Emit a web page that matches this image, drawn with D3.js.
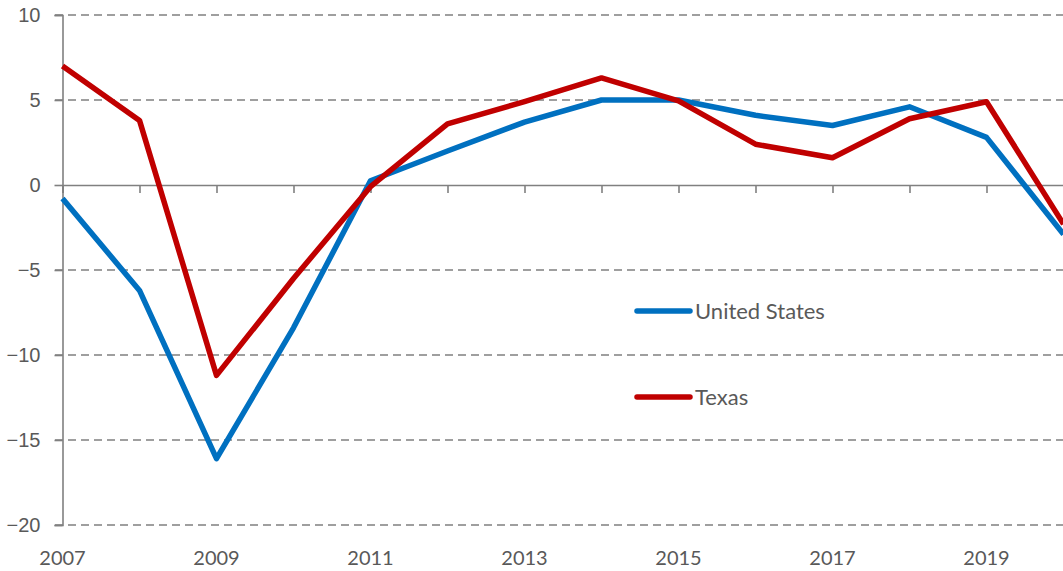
<!DOCTYPE html>
<html>
<head>
<meta charset="utf-8">
<script src="https://cdn.jsdelivr.net/npm/d3@7"></script>
<style>
  body { margin: 0; background: #fff; }
  svg { display: block; font-family: Lato, "Open Sans", sans-serif; }
</style>
</head>
<body>
<figure style="margin:0"></figure>
<script>
let widthFigure = 1063;
let heightFigure = 571;

let years = [2007, 2008, 2009, 2010, 2011, 2012, 2013, 2014, 2015, 2016, 2017, 2018, 2019, 2020];
let usValues = [-0.8, -6.2, -16.1, -8.4, 0.25, 2.0, 3.7, 5.0, 5.0, 4.1, 3.5, 4.6, 2.8, -2.9];
let txValues = [7.0, 3.8, -11.2, -5.5, -0.1, 3.6, 4.9, 6.3, 4.95, 2.4, 1.6, 3.9, 4.9, -2.3];
let yTicks = [-20, -15, -10, -5, 0, 5, 10];
let xLabels = [2007, 2009, 2011, 2013, 2015, 2017, 2019];
let seriesNames = ['United States', 'Texas'];
let seriesColors = ['#0070c0', '#c00000'];

let xScale = d3.scaleLinear().domain([2007, 2020]).range([62.5, 1063.5]);
let yScale = d3.scaleLinear().domain([-20, 10]).range([525, 15]);

let svg = d3.select('figure')
    .append('svg')
    .attr('width', widthFigure)
    .attr('height', heightFigure);

// dashed gridlines (not on zero, that's the axis)
svg.selectAll('.grid')
    .data(yTicks.filter(d => d !== 0))
    .enter()
    .append('line')
    .attr('x1', 55)
    .attr('x2', widthFigure)
    .attr('y1', d => yScale(d))
    .attr('y2', d => yScale(d))
    .attr('stroke', '#808080')
    .attr('stroke-width', 1.6)
    .attr('stroke-dasharray', '8,5');

// y axis
let yAxis = d3.axisLeft(yScale).tickValues(yTicks).tickSize(8).tickPadding(14);
let gy = svg.append('g').attr('transform', 'translate(62.5,0)').call(yAxis);
gy.select('.domain').attr('stroke', '#808080').attr('stroke-width', 1.6);
gy.selectAll('.tick line').attr('stroke', '#808080').attr('stroke-width', 1.6);
gy.selectAll('.tick text').attr('fill', '#595959').style('font-size', '20px');

// x axis at zero
let xAxis = d3.axisBottom(xScale).tickValues(years).tickSize(8).tickFormat('');
let gx = svg.append('g').attr('transform', `translate(0,${yScale(0)})`).call(xAxis);
gx.select('.domain').attr('stroke', '#808080').attr('stroke-width', 1.6);
gx.selectAll('.tick line').attr('stroke', '#808080').attr('stroke-width', 1.6);

// year labels at the bottom
svg.selectAll('.xlab')
    .data(xLabels)
    .enter()
    .append('text')
    .attr('x', d => xScale(d))
    .attr('y', 565)
    .attr('text-anchor', 'middle')
    .attr('fill', '#595959')
    .style('font-size', '20px')
    .text(d => d);

let line = d3.line()
    .x((d, i) => xScale(years[i]))
    .y(d => yScale(d));

[usValues, txValues].forEach((vals, k) => {
    svg.append('path')
        .datum(vals)
        .attr('d', line)
        .attr('fill', 'none')
        .attr('stroke', seriesColors[k])
        .attr('stroke-width', 5.5)
        .attr('stroke-linejoin', 'round');
});

// legend
let legend = svg.selectAll('.legend')
    .data(seriesNames)
    .enter()
    .append('g')
    .attr('transform', (d, i) => `translate(637,${311 + i * 86})`);

legend.append('line')
    .attr('x1', 0).attr('x2', 53)
    .attr('stroke', (d, i) => seriesColors[i])
    .attr('stroke-width', 5.5)
    .attr('stroke-linecap', 'round');

legend.append('text')
    .attr('x', 58)
    .attr('dy', '0.35em')
    .attr('fill', '#595959')
    .style('font-size', '22px')
    .text(d => d);
</script>
</body>
</html>
